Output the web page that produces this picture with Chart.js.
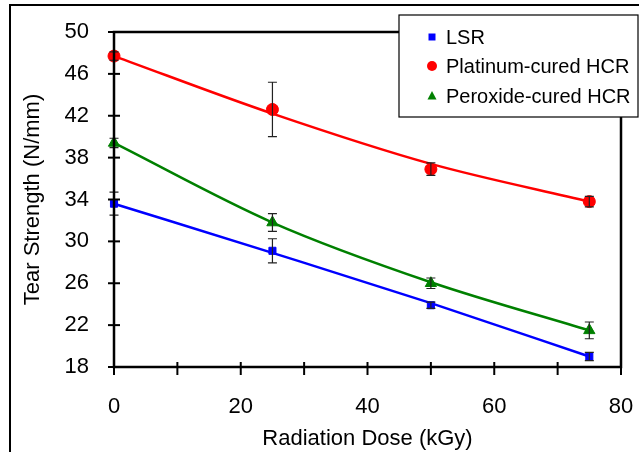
<!DOCTYPE html>
<html>
<head>
<meta charset="utf-8">
<script src="https://cdn.jsdelivr.net/npm/chart.js@4/dist/chart.umd.min.js"></script>
<style>
  html, body { margin: 0; padding: 0; background: #fff; }
  #wrap { width: 639px; height: 452px; }
</style>
</head>
<body>
<div id="wrap"><canvas id="chart" width="639" height="452"></canvas></div>
<script>
// data
const doses = [0, 25, 50, 75];

const lsr = [33.6, 29.1, 23.9, 19.0];
const lsrErr = [1.1, 1.15, 0.3, 0.4];
const lsrFit = [33.6, 28.9, 24.1, 19.0];

const platinum = [47.7, 42.6, 36.9, 33.8];
const platinumErr = [0.4, 2.6, 0.6, 0.5];
const platinumFit = [47.7, 42.2, 37.4, 33.8];

const peroxide = [39.4, 31.8, 26.0, 21.5];
const peroxideErr = [0.45, 0.85, 0.5, 0.8];
const peroxideFit = [39.4, 31.8, 26.1, 21.5];

const yTicks = [18, 22, 26, 30, 34, 38, 42, 46, 50];
const xTicks = [0, 10, 20, 30, 40, 50, 60, 70, 80];

const FONT = "'Liberation Sans', Arial, sans-serif";

function pts(ys) {
    return doses.map((x, i) => ({ x: x, y: ys[i] }));
}

function fitLine(ys, color) {
    return {
        label: "fit",
        data: pts(ys),
        showLine: true,
        borderColor: color,
        borderWidth: 2.5,
        pointRadius: 0,
        cubicInterpolationMode: "monotone",
        clip: false,
        fit: true
    };
}

function marks(label, ys, errs, color, style, r) {
    return {
        label: label,
        data: pts(ys),
        errs: errs,
        showLine: false,
        backgroundColor: color,
        borderColor: color,
        pointStyle: style,
        pointRadius: r,
        pointHoverRadius: r,
        clip: false
    };
}

// error bars, ticks, frame and legend
const extras = {
    id: "extras",
    beforeDraw(chart) {
        const ctx = chart.ctx;
        ctx.save();
        ctx.fillStyle = "#fff";
        ctx.fillRect(0, 0, chart.width, chart.height);
        ctx.strokeStyle = "#000";
        ctx.lineWidth = 2;
        ctx.beginPath();
        ctx.moveTo(10, chart.height);
        ctx.lineTo(10, 5);
        ctx.lineTo(chart.width, 5);
        ctx.stroke();
        ctx.restore();
    },
    afterDatasetsDraw(chart) {
        const ctx = chart.ctx;
        const xs = chart.scales.x, ys = chart.scales.y;
        const a = chart.chartArea;
        ctx.save();

        // error bars
        ctx.strokeStyle = "#222";
        ctx.lineWidth = 1.2;
        chart.data.datasets.forEach(ds => {
            if (!ds.errs) return;
            ds.data.forEach((p, i) => {
                const px = xs.getPixelForValue(p.x);
                const y1 = ys.getPixelForValue(p.y + ds.errs[i]);
                const y2 = ys.getPixelForValue(p.y - ds.errs[i]);
                ctx.beginPath();
                ctx.moveTo(px, y1); ctx.lineTo(px, y2);
                ctx.moveTo(px - 4.5, y1); ctx.lineTo(px + 4.5, y1);
                ctx.moveTo(px - 4.5, y2); ctx.lineTo(px + 4.5, y2);
                ctx.stroke();
            });
        });

        // plot frame
        ctx.strokeStyle = "#000";
        ctx.lineWidth = 2.5;
        ctx.strokeRect(a.left, a.top, a.right - a.left, a.bottom - a.top);

        // ticks crossing the axes
        ctx.lineWidth = 2;
        yTicks.forEach(v => {
            const py = ys.getPixelForValue(v);
            ctx.beginPath();
            ctx.moveTo(a.left - 6, py); ctx.lineTo(a.left + 6, py);
            ctx.stroke();
        });
        xTicks.forEach(v => {
            const px = xs.getPixelForValue(v);
            ctx.beginPath();
            ctx.moveTo(px, a.bottom - 5); ctx.lineTo(px, a.bottom + 8);
            ctx.stroke();
        });

        // legend
        const lx = 399, ly = 15, lw = 239, lh = 102;
        ctx.fillStyle = "#fff";
        ctx.fillRect(lx, ly, lw, lh);
        ctx.lineWidth = 1.2;
        ctx.strokeRect(lx, ly, lw, lh);
        const rows = chart.data.datasets.filter(d => !d.fit);
        const rowY = [37, 66, 96];
        ctx.font = "20px " + FONT;
        ctx.textBaseline = "middle";
        rows.forEach((ds, i) => {
            const cx = 432, cy = rowY[i];
            ctx.fillStyle = ds.backgroundColor;
            ctx.beginPath();
            if (ds.pointStyle === "rect") {
                ctx.rect(cx - 3.5, cy - 3.5, 7, 7);
            } else if (ds.pointStyle === "circle") {
                ctx.arc(cx, cy, 5, 0, Math.PI * 2);
            } else {
                ctx.moveTo(cx, cy - 5);
                ctx.lineTo(cx + 4.5, cy + 3.5);
                ctx.lineTo(cx - 4.5, cy + 3.5);
                ctx.closePath();
            }
            ctx.fill();
            ctx.fillStyle = "#000";
            ctx.fillText(ds.label, 446, cy + 1);
        });
        ctx.restore();
    }
};

new Chart(document.getElementById("chart"), {
    type: "scatter",
    data: {
        datasets: [
            fitLine(lsrFit, "#0000ff"),
            fitLine(platinumFit, "#ff0000"),
            fitLine(peroxideFit, "#008000"),
            marks("LSR", lsr, lsrErr, "#0000ff", "rect", 5),
            marks("Platinum-cured HCR", platinum, platinumErr, "#ff0000", "circle", 6),
            marks("Peroxide-cured HCR", peroxide, peroxideErr, "#008000", "triangle", 6.5)
        ]
    },
    options: {
        responsive: false,
        animation: false,
        events: [],
        layout: { padding: { left: 0, top: 32, right: 18, bottom: 0 } },
        plugins: {
            legend: { display: false },
            tooltip: { enabled: false }
        },
        scales: {
            x: {
                type: "linear",
                min: 0, max: 80,
                afterFit: s => { s.height = 85; s.paddingLeft = 0; s.paddingRight = 0; },
                grid: { display: false },
                border: { display: false },
                ticks: {
                    stepSize: 10,
                    color: "#000",
                    padding: 19,
                    maxRotation: 0,
                    font: { family: FONT, size: 22 },
                    callback: v => (v % 20 === 0 ? v : "")
                },
                title: {
                    display: true,
                    text: "Radiation Dose (kGy)",
                    color: "#000",
                    padding: 0,
                    font: { family: FONT, size: 22 }
                }
            },
            y: {
                min: 18, max: 50,
                afterFit: s => { s.width = 114; s.paddingTop = 0; s.paddingBottom = 0; },
                grid: { display: false },
                border: { display: false },
                ticks: {
                    stepSize: 4,
                    color: "#000",
                    padding: 17,
                    font: { family: FONT, size: 22 }
                },
                title: {
                    display: true,
                    text: "Tear Strength (N/mm)",
                    color: "#000",
                    padding: { top: 20, bottom: 0 },
                    font: { family: FONT, size: 22 }
                }
            }
        }
    },
    plugins: [extras]
});
</script>
</body>
</html>
